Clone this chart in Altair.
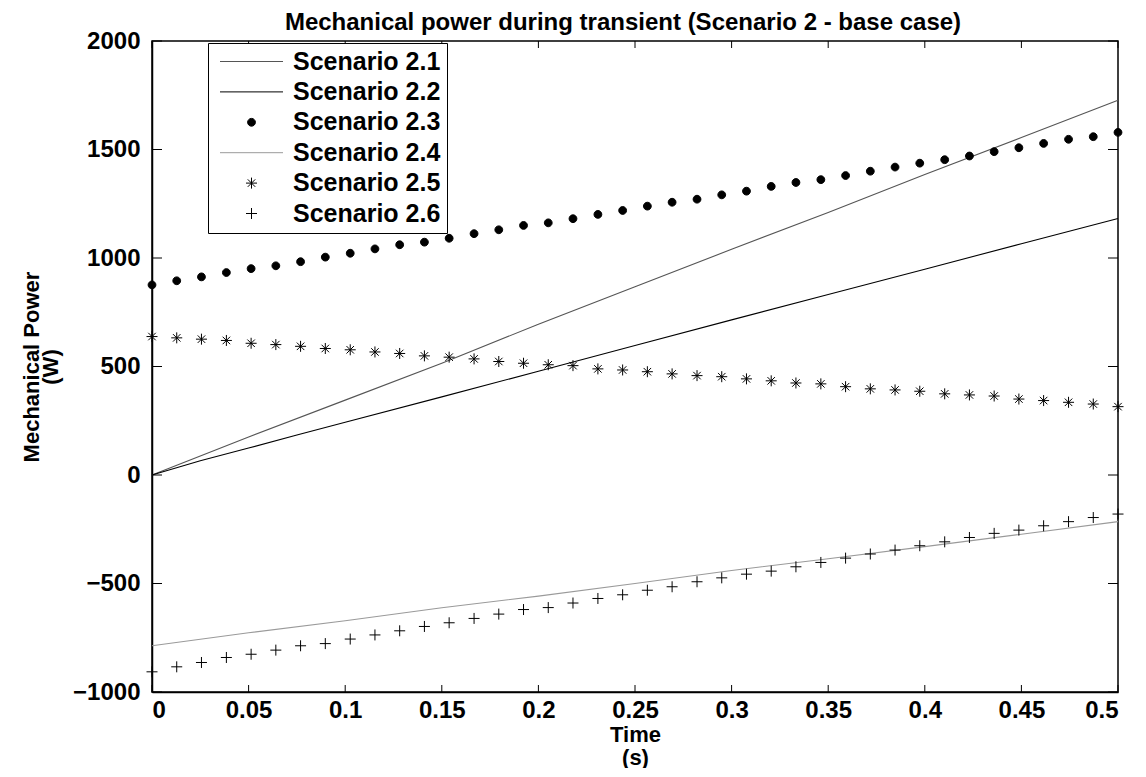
import altair as alt
import pandas as pd

FONT = "Liberation Sans"

series_names = ["Scenario 2.1", "Scenario 2.2", "Scenario 2.3",
                "Scenario 2.4", "Scenario 2.5", "Scenario 2.6"]

# marker sample times (40 samples)
t_markers = [0, 0.0128, 0.0256, 0.0385, 0.0513, 0.0641, 0.0769, 0.0897, 0.1026, 0.1154,
             0.1282, 0.141, 0.1538, 0.1667, 0.1795, 0.1923, 0.2051, 0.2179, 0.2308, 0.2436,
             0.2564, 0.2692, 0.2821, 0.2949, 0.3077, 0.3205, 0.3333, 0.3462, 0.359, 0.3718,
             0.3846, 0.3974, 0.4103, 0.4231, 0.4359, 0.4487, 0.4615, 0.4744, 0.4872, 0.5]

s23 = [876, 895, 913, 933, 951, 964, 983, 1004, 1022, 1042,
       1061, 1073, 1091, 1112, 1130, 1150, 1162, 1181, 1201, 1219,
       1239, 1257, 1271, 1291, 1308, 1330, 1348, 1361, 1380, 1400,
       1419, 1437, 1453, 1470, 1490, 1508, 1528, 1547, 1559, 1579]

s25 = [638, 632, 626, 620, 607, 601, 593, 583, 577, 567,
       560, 549, 543, 535, 523, 515, 508, 504, 489, 484,
       476, 466, 458, 453, 443, 434, 424, 420, 407, 397,
       392, 386, 374, 369, 364, 350, 343, 335, 327, 315]

s26 = [-907, -884, -864, -841, -826, -807, -787, -777, -756, -737,
       -718, -698, -681, -661, -641, -620, -611, -590, -569, -552,
       -531, -515, -492, -474, -457, -443, -423, -403, -383, -364,
       -346, -326, -308, -288, -269, -254, -234, -215, -196, -180]

t21 = [0, 0.05, 0.1, 0.15, 0.2, 0.25, 0.3, 0.35, 0.4, 0.45, 0.5]
s21 = [0, 175, 345, 515, 695, 868, 1040, 1210, 1385, 1555, 1727]

t22 = [0, 0.025, 0.05, 0.075, 0.1, 0.15, 0.2, 0.25, 0.3, 0.35, 0.4, 0.45, 0.5]
s22 = [0, 66, 124, 184, 243, 360, 478, 597, 715, 832, 948, 1066, 1182]

t24 = [0, 0.05, 0.1, 0.15, 0.2, 0.25, 0.3, 0.35, 0.4, 0.45, 0.5]
s24 = [-787, -727, -672, -612, -558, -500, -440, -386, -330, -273, -215]

x_ticks = [0, 0.05, 0.1, 0.15, 0.2, 0.25, 0.3, 0.35, 0.4, 0.45, 0.5]
y_ticks = [-1000, -500, 0, 500, 1000, 1500, 2000]

W, H = 966, 651

line_df = pd.concat([
    pd.DataFrame({"t": t21, "value": s21, "series": series_names[0]}),
    pd.DataFrame({"t": t22, "value": s22, "series": series_names[1]}),
    pd.DataFrame({"t": t24, "value": s24, "series": series_names[3]}),
])
marker_df = pd.concat([
    pd.DataFrame({"t": t_markers, "value": s23, "series": series_names[2]}),
    pd.DataFrame({"t": t_markers, "value": s25, "series": series_names[4]}),
    pd.DataFrame({"t": t_markers, "value": s26, "series": series_names[5]}),
])
xt_df = pd.DataFrame({"t": x_ticks})
yt_df = pd.DataFrame({"value": y_ticks})

x_enc = alt.X("t:Q", scale=alt.Scale(domain=[0, 0.5], nice=False, zero=False),
              axis=alt.Axis(values=x_ticks, format="~g", title=["Time", "(s)"],
                            labelPadding=6, labelFontSize=24,
                            titleFontSize=22, titlePadding=2, titleLineHeight=23))
y_enc = alt.Y("value:Q", scale=alt.Scale(domain=[-1000, 2000], nice=False, zero=False),
              axis=alt.Axis(values=y_ticks, format="d",
                            title=["Mechanical Power", "(W)"],
                            labelPadding=12, labelFontSize=24,
                            titleFontSize=22, titlePadding=10, titleLineHeight=19))

line_colors = {series_names[0]: "#555555", series_names[1]: "#000000", series_names[3]: "#9a9a9a"}
line_layers = [
    alt.Chart(line_df[line_df.series == name]).mark_line(color=c, strokeWidth=1.1)
    .encode(x=x_enc, y=y_enc)
    for name, c in line_colors.items()
]

LINE_SYM = "M-6.3,0L6.3,0"
DOT_SYM = "M-0.78,0A0.78,0.78,0,1,0,0.78,0A0.78,0.78,0,1,0,-0.78,0Z"
STAR_SYM = "M-1.1,0L1.1,0M0,-1.1L0,1.1M-0.75,-0.75L0.75,0.75M-0.75,0.75L0.75,-0.75"
PLUS_SYM = "M-1.1,0L1.1,0M0,-1.1L0,1.1"

shape_range = [LINE_SYM, LINE_SYM, DOT_SYM, LINE_SYM, STAR_SYM, PLUS_SYM]
stroke_range = ["#555555", "#000000", "#000000", "#9a9a9a", "#000000", "#000000"]
fill_range = ["transparent", "transparent", "#000000", "transparent", "transparent", "transparent"]

leg = alt.Legend(title=None, orient="none", legendX=56, legendY=2,
                 fillColor="white", strokeColor="black",
                 padding=6, symbolSize=100, symbolStrokeWidth=1,
                 symbolOffset=25, labelOffset=29, rowPadding=4.4,
                 labelFont=FONT, labelFontWeight="bold", labelFontSize=25,
                 labelColor="black", labelLimit=400)

points = alt.Chart(marker_df).mark_point(size=100, strokeWidth=1, opacity=1, filled=False).encode(
    x=x_enc, y=y_enc,
    shape=alt.Shape("series:N", scale=alt.Scale(domain=series_names, range=shape_range), legend=leg),
    stroke=alt.Stroke("series:N", scale=alt.Scale(domain=series_names, range=stroke_range), legend=leg),
    fill=alt.Fill("series:N", scale=alt.Scale(domain=series_names, range=fill_range), legend=leg),
)

tick_bottom = alt.Chart(xt_df).mark_rule(color="black", strokeWidth=1).encode(
    x=alt.X("t:Q"), y=alt.value(H), y2=alt.value(H - 7))
tick_top = alt.Chart(xt_df).mark_rule(color="black", strokeWidth=1).encode(
    x=alt.X("t:Q"), y=alt.value(0), y2=alt.value(7))
tick_left = alt.Chart(yt_df).mark_rule(color="black", strokeWidth=1).encode(
    y=alt.Y("value:Q"), x=alt.value(0), x2=alt.value(10))
tick_right = alt.Chart(yt_df).mark_rule(color="black", strokeWidth=1).encode(
    y=alt.Y("value:Q"), x=alt.value(W), x2=alt.value(W - 10))

chart = alt.layer(*line_layers, points, tick_bottom, tick_top, tick_left, tick_right).properties(
    width=W, height=H,
    title=alt.TitleParams("Mechanical power during transient (Scenario 2 - base case)",
                          font=FONT, fontSize=24, fontWeight="bold", color="black",
                          anchor="middle", frame="group", offset=-6, dx=-12),
    padding={"left": 12, "top": 3, "right": 2, "bottom": 0},
).configure_view(stroke="black", strokeWidth=1.5).configure_axis(
    domainColor="black", domainWidth=1.5, ticks=False, tickSize=0, grid=False,
    labelFont=FONT, labelFontWeight="bold", labelColor="black",
    titleFont=FONT, titleFontWeight="bold", titleColor="black",
)

chart.save("out.html", embed_options={"renderer": "svg", "actions": False})
